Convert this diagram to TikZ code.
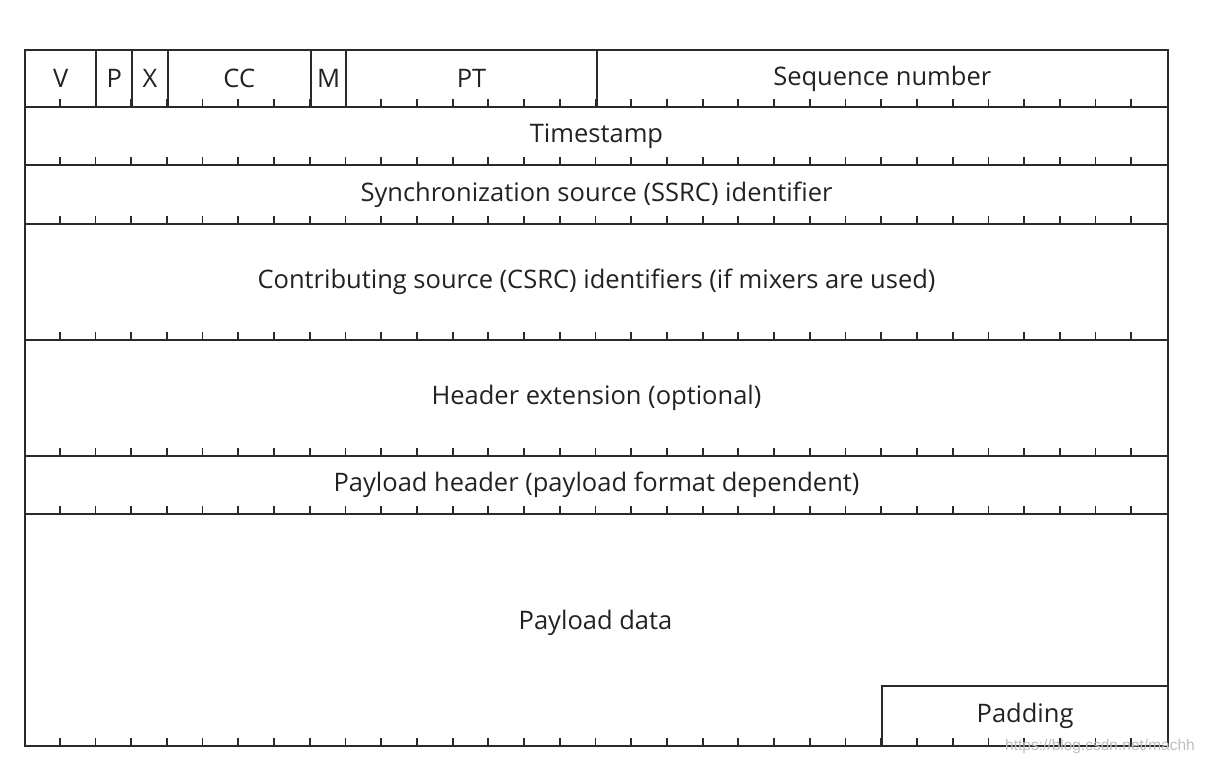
\documentclass[tikz,border=0pt]{standalone}
\usepackage{fontspec}
\setmainfont[Ligatures=NoCommon]{Open Sans}
\newfontfamily\wmfont{Liberation Sans}
\definecolor{linec}{HTML}{2A2A2A}
\definecolor{textc}{HTML}{222222}
\definecolor{wmc}{HTML}{BEBEBE}
\begin{document}
\begin{tikzpicture}[x=1pt,y=-1pt,
  field/.style={draw=linec, line width=2pt, rectangle, inner sep=0pt, anchor=north west,
    font=\fontsize{25.5}{29}\selectfont, text=textc},
  lbl/.style={font=\fontsize{25.5}{29}\selectfont, text=textc, inner sep=0pt},
  tickmark/.style={draw=linec, line width=1.8pt}]
\useasboundingbox (0,0) rectangle (1208,765);
% row 1
\node[field, minimum width=71.4375pt, minimum height=57.5pt] (v) at (24,49) {V};
\node[field, minimum width=35.71875pt, minimum height=57.5pt] (p) at (95.4375,49) {P};
\node[field, minimum width=35.71875pt, minimum height=57.5pt] (x) at (131.15625,49) {X};
\node[field, minimum width=142.875pt, minimum height=57.5pt] (cc) at (166.875,49) {CC};
\node[field, minimum width=35.71875pt, minimum height=57.5pt] (m) at (309.75,49) {M};
\node[field, minimum width=250.03125pt, minimum height=57.5pt] (pt) at (345.46875,49) {PT};
\node[field, minimum width=571.5pt, minimum height=57.5pt] (seq) at (595.5,49) {Sequence number};
% full rows
\node[field, minimum width=1143pt, minimum height=58pt] (ts) at (24,106.5) {Timestamp};
\node[field, minimum width=1143pt, minimum height=58pt] (ssrc) at (24,164.5) {Synchronization source (SSRC) identifier};
\node[field, minimum width=1143pt, minimum height=116.5pt] (csrc) at (24,222.5) {Contributing source (CSRC) identifiers (if mixers are used)};
\node[field, minimum width=1143pt, minimum height=115.5pt] (ext) at (24,339) {Header extension (optional)};
\node[field, minimum width=1143pt, minimum height=58pt] (ph) at (24,454.5) {Payload header (payload format dependent)};
\node[field, minimum width=1143pt, minimum height=232.5pt] (pd) at (24,512.5) {};
\node[lbl] (pdtext) at (595.5,623) {Payload data};
\node[field, minimum width=285.75pt, minimum height=60pt] (pad) at (881.25,685) {Padding};
% bit ticks
\foreach \yy in {106.5,164.5,222.5,339,454.5,512.5,745}
  \foreach \k in {1,...,31}
    \draw[tickmark] ({24+\k*35.71875},\yy) -- ++(0,-7);
% watermark
\node[font=\wmfont\fontsize{15.5}{17}\selectfont, text=wmc, inner sep=0pt] (wm) at (1100,746) {https://blog.csdn.net/machh};
\end{tikzpicture}
\end{document}
